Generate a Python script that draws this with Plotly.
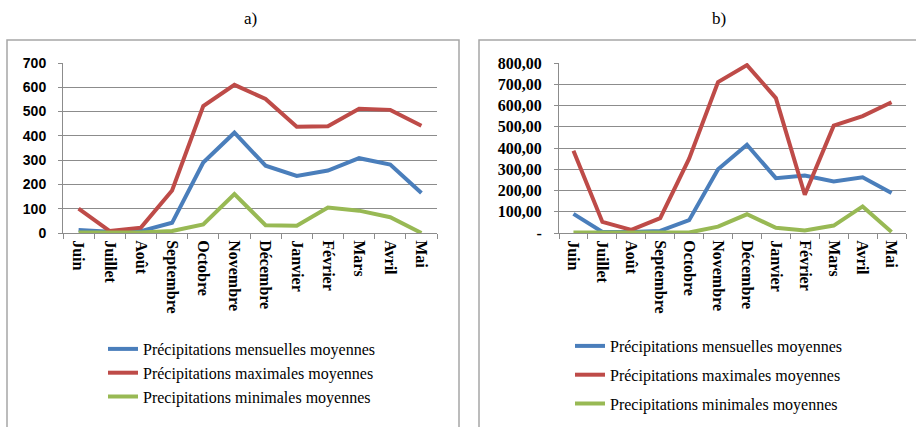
import plotly.graph_objects as go

months = ["Juin", "Juillet", "Août", "Septembre", "Octobre", "Novembre", "Décembre",
          "Janvier", "Février", "Mars", "Avril", "Mai"]

names = ["Précipitations mensuelles moyennes",
         "Précipitations maximales moyennes",
         "Precipitations minimales moyennes"]
colors = ["#4a7ebb", "#be4b48", "#98b954"]

# Panel a)
a_mean = [12, 5, 8, 42, 290, 413, 277, 235, 257, 308, 282, 165]
a_max = [100, 8, 22, 175, 523, 610, 552, 438, 440, 512, 507, 442]
a_min = [2, 1, 2, 8, 35, 160, 32, 30, 105, 92, 65, 0]

# Panel b)
b_mean = [90, 5, 5, 10, 60, 300, 415, 258, 270, 242, 262, 188]
b_max = [387, 52, 15, 70, 350, 710, 790, 635, 180, 505, 550, 615]
b_min = [2, 2, 2, 2, 2, 30, 88, 25, 12, 35, 125, 5]

a_ticks = [0, 100, 200, 300, 400, 500, 600, 700]
b_ticks = [0, 100, 200, 300, 400, 500, 600, 700, 800]
b_ticktext = ["-", "100,00", "200,00", "300,00", "400,00", "500,00", "600,00", "700,00", "800,00"]

W, H = 916, 427
def px(x): return x / W
def py(y): return 1 - y / H

fig = go.Figure()

for i, s in enumerate([a_mean, a_max, a_min]):
    fig.add_trace(go.Scatter(x=months, y=s, mode="lines", name=names[i],
                             line=dict(color=colors[i], width=4),
                             xaxis="x", yaxis="y", legend="legend"))
for i, s in enumerate([b_mean, b_max, b_min]):
    fig.add_trace(go.Scatter(x=months, y=s, mode="lines", name=names[i],
                             line=dict(color=colors[i], width=4),
                             xaxis="x2", yaxis="y2", legend="legend2",
                             legendgroup="g%d" % i))

serif = "Liberation Serif, Times New Roman, serif"
sans = "Liberation Sans, Arial, sans-serif"
grid = "#8c8c8c"

xcommon = dict(type="category", categoryorder="array", categoryarray=months,
               range=[-0.5, 11.5], showgrid=False, showline=True, linecolor=grid,
               linewidth=1, ticks="outside", tickson="boundaries", ticklen=5,
               tickcolor=grid, tickangle=90, automargin=False, ticklabelstandoff=3,
               tickfont=dict(family=serif, size=16, color="#000", weight="bold"))
ydom = [py(233), py(63)]

fig.update_layout(
    width=W, height=H, margin=dict(l=0, r=0, t=0, b=0, autoexpand=False),
    paper_bgcolor="white", plot_bgcolor="white",
    xaxis=dict(domain=[px(63), px(437)], anchor="y", **xcommon),
    yaxis=dict(domain=ydom, anchor="x", range=[0, 700], tickvals=a_ticks,
               showgrid=True, gridcolor=grid, gridwidth=1, zeroline=False,
               showline=True, linecolor=grid, ticks="outside", ticklen=4, tickcolor=grid,
               automargin=False, ticklabelstandoff=9,
               tickfont=dict(family=sans, size=14, color="#000", weight="bold")),
    xaxis2=dict(domain=[px(559), px(906)], anchor="y2", **xcommon),
    yaxis2=dict(domain=ydom, anchor="x2", range=[0, 800], tickvals=b_ticks,
                ticktext=b_ticktext,
                showgrid=True, gridcolor=grid, gridwidth=1, zeroline=False,
                showline=True, linecolor=grid, ticks="outside", ticklen=4, tickcolor=grid,
                automargin=False, ticklabelstandoff=9,
                tickfont=dict(family=serif, size=16, color="#000", weight="bold")),
    legend=dict(x=px(103), y=py(332), xanchor="left", yanchor="top",
                font=dict(family=serif, size=16, color="#000"),
                bgcolor="rgba(0,0,0,0)", tracegroupgap=0, itemwidth=30,
                traceorder="normal"),
    legend2=dict(x=px(570), y=py(329), xanchor="left", yanchor="top",
                 font=dict(family=serif, size=16, color="#000"),
                 bgcolor="rgba(0,0,0,0)", tracegroupgap=5, itemwidth=30,
                 traceorder="grouped"),
    showlegend=True,
)

# panel borders
fig.add_shape(type="rect", xref="paper", yref="paper",
              x0=px(7), x1=px(459), y0=py(440), y1=py(40),
              line=dict(color="#a6a6a6", width=1.5))
fig.add_shape(type="rect", xref="paper", yref="paper",
              x0=px(479), x1=px(930), y0=py(440), y1=py(40),
              line=dict(color="#a6a6a6", width=1.5))

fig.add_annotation(text="a)", x=px(250), y=py(18), xref="paper", yref="paper",
                   xanchor="center", yanchor="middle",
                   showarrow=False, font=dict(family=serif, size=17, color="#000"))
fig.add_annotation(text="b)", x=px(719), y=py(18), xref="paper", yref="paper",
                   xanchor="center", yanchor="middle",
                   showarrow=False, font=dict(family=serif, size=17, color="#000"))

fig.write_html("out.html", config={"displayModeBar": False},
               post_script="document.body.style.margin='0';document.body.style.overflow='hidden';document.documentElement.style.overflow='hidden';")
